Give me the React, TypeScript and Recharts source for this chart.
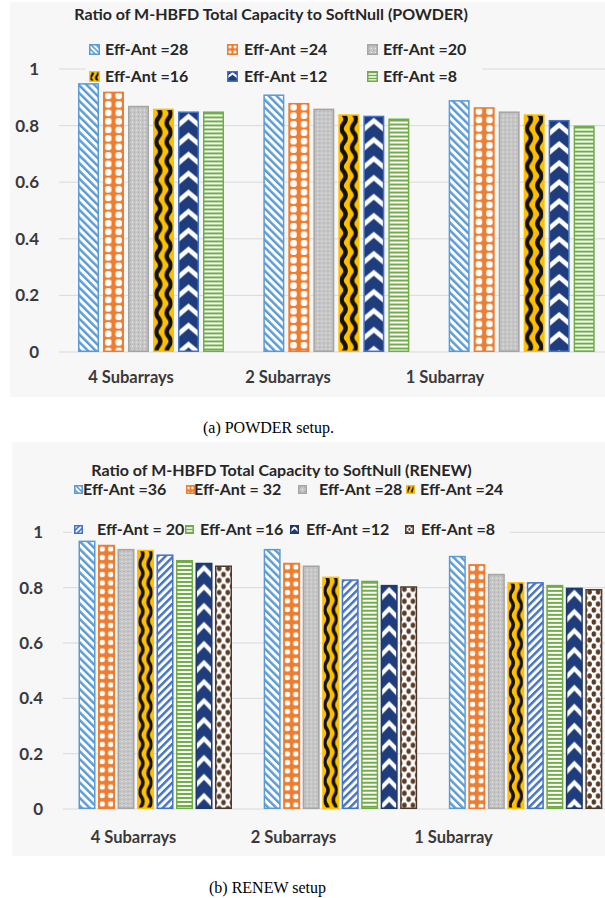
import React from 'react';
import { BarChart, Bar, XAxis, YAxis, CartesianGrid } from 'recharts';

// ---------- data ----------
const categories = ['4 Subarrays', '2 Subarrays', '1 Subarray'];
const yTicks = [0, 0.2, 0.4, 0.6, 0.8, 1];

const powderNames = ['Eff-Ant =28', 'Eff-Ant =24', 'Eff-Ant =20', 'Eff-Ant =16', 'Eff-Ant =12', 'Eff-Ant =8'];
const powder28 = [0.95, 0.91, 0.89];
const powder24 = [0.92, 0.88, 0.865];
const powder20 = [0.87, 0.86, 0.85];
const powder16 = [0.86, 0.84, 0.84];
const powder12 = [0.85, 0.835, 0.82];
const powder8 = [0.85, 0.825, 0.8];

const renewNames = ['Eff-Ant =36', 'Eff-Ant = 32', 'Eff-Ant =28', 'Eff-Ant =24', 'Eff-Ant = 20', 'Eff-Ant =16', 'Eff-Ant =12', 'Eff-Ant =8'];
const renew36 = [0.97, 0.94, 0.915];
const renew32 = [0.955, 0.89, 0.885];
const renew28 = [0.94, 0.88, 0.85];
const renew24 = [0.937, 0.84, 0.82];
const renew20 = [0.92, 0.83, 0.82];
const renew16 = [0.9, 0.825, 0.81];
const renew12 = [0.89, 0.81, 0.8];
const renew8 = [0.88, 0.805, 0.795];

const powderValues = [powder28, powder24, powder20, powder16, powder12, powder8];
const renewValues = [renew36, renew32, renew28, renew24, renew20, renew16, renew12, renew8];

const buildRows = (vals: number[][]) =>
  categories.map((cat, i) => {
    const row: any = { cat };
    vals.forEach((v, j) => {
      row['s' + j] = v[i];
    });
    return row;
  });

const powderData = buildRows(powderValues);
const renewData = buildRows(renewValues);

// ---------- styles ----------
const powderStyles = [
  { kind: 'diagDown', stroke: '#5b9bd5' },
  { kind: 'orange', stroke: '#ed7d31' },
  { kind: 'gray', stroke: '#a5a5a5' },
  { kind: 'wave', stroke: '#ffc000' },
  { kind: 'chevron', stroke: '#4472c4' },
  { kind: 'hstripe', stroke: '#70ad47' },
];
const renewStyles = [
  { kind: 'diagDown', stroke: '#5b9bd5' },
  { kind: 'orange', stroke: '#ed7d31' },
  { kind: 'gray', stroke: '#a5a5a5' },
  { kind: 'wave', stroke: '#ffc000' },
  { kind: 'diagUp', stroke: '#4472c4' },
  { kind: 'hstripe', stroke: '#70ad47' },
  { kind: 'chevron', stroke: '#203864' },
  { kind: 'dots', stroke: '#4a3b2c' },
];

const FONT = 'Lato, "Open Sans", sans-serif';
const PANEL = '#f7f7f7';

function wavePath(c: number, a: number, th: number) {
  let d = `M${c} ${-th}`;
  for (let k = -1; k < 2; k++) {
    const y0 = k * th;
    d += ` C${c + a} ${y0 + th / 6}, ${c + a} ${y0 + th / 3}, ${c} ${y0 + th / 2}`;
    d += ` C${c - a} ${y0 + (2 * th) / 3}, ${c - a} ${y0 + (5 * th) / 6}, ${c} ${y0 + th}`;
  }
  return d;
}

function patternFor(kind: string, id: string, x: number, y: number, w: number) {
  switch (kind) {
    case 'diagDown':
    case 'diagUp': {
      const col = kind === 'diagDown' ? '#5b9bd5' : '#4472c4';
      const p = w < 14 ? 3.6 : 5.5;
      return (
        <pattern id={id} patternUnits="userSpaceOnUse" width={p} height={p}
          patternTransform={`rotate(${kind === 'diagDown' ? -45 : 45})`}>
          <rect width={p} height={p} fill="#ffffff" />
          <rect width={p * 0.45} height={p} fill={col} />
        </pattern>
      );
    }
    case 'orange': {
      const tw = w / 2;
      const th = w < 14 ? 5.5 : 8.5;
      const s = Math.min(6.4, tw * 0.62);
      return (
        <pattern id={id} patternUnits="userSpaceOnUse" x={x} y={y} width={tw} height={th}>
          <rect width={tw} height={th} fill="#ed7d31" />
          <rect x={tw / 2 - s / 2} y={th / 2 - s / 2} width={s} height={s} rx={s * 0.4} fill="#ffffff" />
        </pattern>
      );
    }
    case 'gray':
      return (
        <pattern id={id} patternUnits="userSpaceOnUse" x={x} y={y} width={4} height={4}>
          <rect width={4} height={4} fill="#c6c6c6" />
          <rect x={0} y={0} width={1} height={1} fill="#ececec" />
          <rect x={2} y={2} width={1} height={1} fill="#a8a8a8" />
        </pattern>
      );
    case 'wave': {
      const tw = w / 2;
      const th = w < 14 ? 9 : 19;
      const c = tw / 2;
      const a = tw * 0.26;
      return (
        <pattern id={id} patternUnits="userSpaceOnUse" x={x} y={y} width={tw} height={th}>
          <rect width={tw} height={th} fill="#ffc000" />
          <path d={wavePath(c, a, th)} stroke="#111111" strokeWidth={tw * 0.42} fill="none" />
        </pattern>
      );
    }
    case 'chevron': {
      const th = w < 14 ? 9 : 19;
      const r = th * 0.47;
      const t = th * 0.32;
      const y0 = th * 0.1;
      const pts = `0,${y0 + r} ${w / 2},${y0} ${w},${y0 + r} ${w},${y0 + r + t} ${w / 2},${y0 + t} 0,${y0 + r + t}`;
      return (
        <pattern id={id} patternUnits="userSpaceOnUse" x={x} y={y} width={w} height={th}>
          <rect width={w} height={th} fill="#1f3c7c" />
          <polygon points={pts} fill="#ffffff" />
        </pattern>
      );
    }
    case 'hstripe': {
      const p = w < 14 ? 3 : 4;
      return (
        <pattern id={id} patternUnits="userSpaceOnUse" x={x} y={y} width={p} height={p}>
          <rect width={p} height={p} fill="#ffffff" />
          <rect y={p / 4} width={p} height={p / 2} fill="#70ad47" />
        </pattern>
      );
    }
    case 'dots': {
      const tw = w / 2;
      const th = w < 14 ? 6 : 12;
      const rx = tw * 0.27;
      const ry = th * 0.23;
      return (
        <pattern id={id} patternUnits="userSpaceOnUse" x={x} y={y} width={tw} height={th}>
          <rect width={tw} height={th} fill="#ffffff" />
          <ellipse cx={tw / 2} cy={th / 4} rx={rx} ry={ry} fill="#5b3a26" />
          <ellipse cx={0} cy={(3 * th) / 4} rx={rx} ry={ry} fill="#5b3a26" />
          <ellipse cx={tw} cy={(3 * th) / 4} rx={rx} ry={ry} fill="#5b3a26" />
        </pattern>
      );
    }
    default:
      return null;
  }
}

const makeShape = (chartKey: string, sIdx: number, kind: string, stroke: string) => (props: any) => {
  const { x, y, width, height, index } = props;
  if (!width || !height || height <= 0) return <g />;
  const id = `${chartKey}-${sIdx}-${index}`;
  return (
    <g>
      <defs>{patternFor(kind, id, x, y, width)}</defs>
      <rect x={x + 0.75} y={y + 0.75} width={width - 1.5} height={height - 1.5}
        fill={`url(#${id})`} stroke={stroke} strokeWidth={1.5} />
    </g>
  );
};

function LegendIcon({ kind, stroke, id, size }: any) {
  return (
    <svg width={size} height={size} style={{ display: 'block' }}>
      <defs>{patternFor(kind, id, 0, 0, size)}</defs>
      <rect x={0.75} y={0.75} width={size - 1.5} height={size - 1.5} fill={`url(#${id})`} stroke={stroke} strokeWidth={1.5} />
    </svg>
  );
}

// legend layout: [iconX, textX, row]
const powderLegendPos = [[89, 105, 0], [227, 244, 0], [367, 383, 0], [89, 105, 1], [227, 244, 1], [367, 383, 1]];
const powderLegendRows = [49, 76];
const renewLegendPos = [[74, 83, 0], [186, 194, 0], [298, 319, 0], [406, 420, 0], [74, 97, 1], [185, 200, 1], [290, 306, 1], [405, 421, 1]];
const renewLegendRows = [489, 529];

function LegendBlock({ names, styles, pos, rows, prefix, size, fontSize, box }: any) {
  return (
    <>
      <div style={{ position: 'absolute', left: box[0], top: box[1], width: box[2], height: box[3], background: PANEL }} />
      {names.map((n: string, i: number) => {
        const [ix, tx, r] = pos[i];
        const cy = rows[r];
        return (
          <React.Fragment key={n + i}>
            <div style={{ position: 'absolute', left: ix, top: cy - size / 2 }}>
              <LegendIcon kind={styles[i].kind} stroke={styles[i].stroke} id={`${prefix}-leg-${i}`} size={size} />
            </div>
            <div style={{ position: 'absolute', left: tx, top: cy - 11, height: 22, lineHeight: '22px', fontFamily: FONT, fontWeight: 700, fontSize, color: '#262626', whiteSpace: 'pre' }}>
              {n}
            </div>
          </React.Fragment>
        );
      })}
    </>
  );
}

const tickStyleY = { fontFamily: FONT, fontWeight: 700, fontSize: 17, fill: '#3a3a3a' };
const tickStyleX = { fontFamily: FONT, fontWeight: 700, fontSize: 16.5, fill: '#3a3a3a' };

export default function App() {
  return (
    <div style={{ position: 'absolute', left: 0, top: 0, width: 605, height: 898, overflow: 'hidden', background: '#ffffff' }}>
      {/* panels */}
      <div style={{ position: 'absolute', left: 10, top: 2, width: 595, height: 395, background: PANEL }} />
      <div style={{ position: 'absolute', left: 12, top: 442, width: 593, height: 414, background: PANEL }} />

      {/* top chart */}
      <div style={{ position: 'absolute', left: 0, top: 0 }}>
        <BarChart width={620} height={400} data={powderData} margin={{ top: 69, right: 5, left: 0, bottom: 0 }}
          barCategoryGap={19} barGap={4}>
          <CartesianGrid horizontal vertical={false} stroke="#d9d9d9" xAxisId="bars" />
          <XAxis xAxisId="bars" dataKey="cat" hide height={0} />
          <XAxis xAxisId="lbl" dataKey="cat" axisLine={false} tickLine={false} tickSize={0} tickMargin={19}
            height={48} interval={0} padding={{ left: -6.5, right: 91.5 }} tick={tickStyleX} />
          <YAxis domain={[0, 1]} ticks={yTicks} width={59} axisLine={false} tickLine={false} tickSize={0}
            tickMargin={20} tick={tickStyleY} tickFormatter={(v: number) => String(v)} />
          {powderNames.map((n, j) => (
            <Bar key={n} xAxisId="bars" dataKey={'s' + j} name={n} isAnimationActive={false}
              shape={makeShape('pw', j, powderStyles[j].kind, powderStyles[j].stroke)} />
          ))}
        </BarChart>
      </div>

      {/* bottom chart */}
      <div style={{ position: 'absolute', left: 0, top: 440 }}>
        <BarChart width={620} height={420} data={renewData} margin={{ top: 92.3, right: 1.5, left: 0, bottom: 0 }}
          barCategoryGap={15.5} barGap={2.5}>
          <CartesianGrid horizontal vertical={false} stroke="#d9d9d9" xAxisId="bars" />
          <XAxis xAxisId="bars" dataKey="cat" hide height={0} />
          <XAxis xAxisId="lbl" dataKey="cat" axisLine={false} tickLine={false} tickSize={0} tickMargin={22}
            height={51} interval={0} padding={{ left: -9.5, right: 85 }} tick={tickStyleX} />
          <YAxis domain={[0, 1]} ticks={yTicks} width={63} axisLine={false} tickLine={false} tickSize={0}
            tickMargin={20} tick={tickStyleY} tickFormatter={(v: number) => String(v)} />
          {renewNames.map((n, j) => (
            <Bar key={n} xAxisId="bars" dataKey={'s' + j} name={n} isAnimationActive={false}
              shape={makeShape('rn', j, renewStyles[j].kind, renewStyles[j].stroke)} />
          ))}
        </BarChart>
      </div>

      {/* titles */}
      <div style={{ position: 'absolute', left: 0, top: 4, width: 542, textAlign: 'center', fontFamily: FONT, fontWeight: 700, fontSize: 16, lineHeight: '20px', color: '#262626' }}>
        Ratio of M-HBFD Total Capacity to SoftNull (POWDER)
      </div>
      <div style={{ position: 'absolute', left: 0, top: 460, width: 563, textAlign: 'center', fontFamily: FONT, fontWeight: 700, fontSize: 16, lineHeight: '20px', color: '#262626' }}>
        Ratio of M-HBFD Total Capacity to SoftNull (RENEW)
      </div>

      {/* legends */}
      <LegendBlock names={powderNames} styles={powderStyles} pos={powderLegendPos} rows={powderLegendRows}
        prefix="pw" size={11} fontSize={16} box={[86, 36, 396, 46]} />
      <LegendBlock names={renewNames} styles={renewStyles} pos={renewLegendPos} rows={renewLegendRows}
        prefix="rn" size={9} fontSize={16} box={[72, 478, 438, 60]} />

      {/* captions */}
      <div style={{ position: 'absolute', left: 0, top: 418, width: 537, textAlign: 'center', fontFamily: '"Liberation Serif", "Times New Roman", serif', fontSize: 16, lineHeight: '20px', color: '#000' }}>
        (a) POWDER setup.
      </div>
      <div style={{ position: 'absolute', left: 0, top: 878, width: 535, textAlign: 'center', fontFamily: '"Liberation Serif", "Times New Roman", serif', fontSize: 16, lineHeight: '20px', color: '#000' }}>
        (b) RENEW setup
      </div>
    </div>
  );
}
